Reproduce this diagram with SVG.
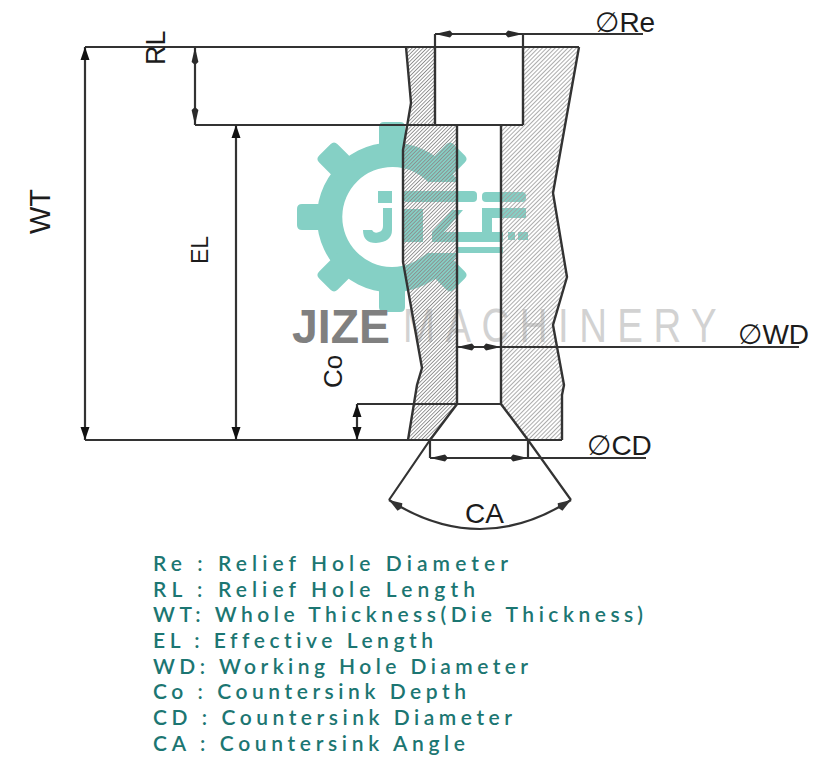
<svg xmlns="http://www.w3.org/2000/svg" width="825" height="769" viewBox="0 0 825 769">
<style>
.ln{fill:none;stroke:#333;stroke-width:2.2}
.ol{fill:none;stroke:#333;stroke-width:2.4;stroke-linejoin:miter}
.lb{font-family:"Liberation Sans",Arial,"DejaVu Sans",sans-serif;fill:#1c1c1c}
.lg{font-family:Lato,"Open Sans",sans-serif;font-size:21px;font-weight:600;font-variant-ligatures:none;fill:#1c7672}
.lg-mark{fill:#85d0c5}
</style>
<defs>
<pattern id="hatchL" width="2.6" height="2.6" patternUnits="userSpaceOnUse" patternTransform="rotate(-45)"><rect width="2.6" height="0.9" fill="#8c8c8c"/></pattern>
<pattern id="hatchR" width="3" height="3" patternUnits="userSpaceOnUse" patternTransform="rotate(-45)"><rect width="3" height="0.9" fill="#a3a3a3"/></pattern>
<marker id="long" markerUnits="userSpaceOnUse" markerWidth="19" markerHeight="8" refX="18" refY="4" orient="auto-start-reverse" viewBox="0 0 19 8"><path d="M18,4 L3,0.6 L0,4 L3,7.4 Z" fill="#2a2a2a"/></marker>
<marker id="short" markerUnits="userSpaceOnUse" markerWidth="14" markerHeight="10" refX="13" refY="5" orient="auto-start-reverse" viewBox="0 0 14 10"><path d="M13,5 L0,0.5 L0,9.5 Z" fill="#111"/></marker>
<marker id="arc" markerUnits="userSpaceOnUse" markerWidth="16" markerHeight="10" refX="15" refY="5" orient="auto-start-reverse" viewBox="0 0 16 10"><path d="M15,5 L2,0.5 L0,5 L2,9.5 Z" fill="#333"/></marker>
<path id="tooth" d="M-13,-64 L-13,-90 Q-13,-95 -8,-95 L8,-95 Q13,-95 13,-90 L13,-64 Z"/>
</defs>
<rect width="825" height="769" fill="#fff"/>

<g id="logo" class="lg-mark">
<path d="M458,182 A75,75 0 1 0 458,253 L427,253 A50,50 0 1 1 428,182 Z"/>
<g transform="translate(392,217)">
<use href="#tooth"/>
<use href="#tooth" transform="rotate(45)"/>
<use href="#tooth" transform="rotate(135)"/>
<use href="#tooth" transform="rotate(180)"/>
<use href="#tooth" transform="rotate(225)"/>
<use href="#tooth" transform="rotate(270)"/>
<use href="#tooth" transform="rotate(315)"/>
</g>
<path d="M378,191 H392 V203 H378 Z"/>
<path d="M383,208 H392 V230 Q392,242 376,243 Q363,243 363,230 L372,230 Q374,234 379,232 Q383,231 383,226 Z"/>
<rect x="403" y="191" width="74" height="11" rx="4"/>
<rect x="482" y="192" width="44" height="10" rx="4"/>
<rect x="403" y="209" width="20" height="33"/>
<path d="M452,210 H463 L444,232 H503 V242 H432 V232 Z"/>
<path d="M482,208 H526 V218 H492 V232 H482 Z"/>
<rect x="508" y="232" width="7" height="8"/>
<rect x="518" y="232" width="10" height="8"/>
<rect x="458" y="247" width="45" height="6"/>
</g>

<g id="watermark">
<text transform="translate(403,342) scale(0.8,1)" font-family="Liberation Sans,sans-serif" font-size="48" fill="#d2d2d2" textLength="392" lengthAdjust="spacing">MACHINERY</text>
<text x="292" y="343" font-family="Liberation Sans,sans-serif" font-size="49" font-weight="700" fill="#808080" textLength="98" lengthAdjust="spacingAndGlyphs">JIZE</text>
</g>

<g id="section">
<path fill="url(#hatchL)" d="M406,47 H435 V125 H457 V404 L430,440 H408 L417,385 L422,368 L403,262 L403,150 L407,125 L411,103 Z"/>
<path fill="url(#hatchR)" d="M523,47 H579 L553,193 L567,277 L553,325 L564,385 L562,395 V440 H528 L501,404 V125 H523 Z"/>
<path class="ol" d="M406,47 L411,103 L403,150 L403,262 L422,368 L417,385 L408,440"/>
<path class="ol" d="M579,47 L553,193 L567,277 L553,325 L564,385 L562,395 V440"/>
<path class="ol" d="M457,125 V404 L430,440"/>
<path class="ol" d="M501,125 V404 L528,440"/>
<path class="ol" d="M435,47 V125 M523,47 V125"/>
</g>

<g id="connectors">
<path class="ln" d="M85,47 H579"/>
<path class="ln" d="M195,125 H523"/>
<path class="ln" d="M85,440 H562"/>
<path class="ln" d="M357,404 H501"/>
<path class="ln" d="M85,47 V440" marker-start="url(#short)" marker-end="url(#short)"/>
<path class="ln" d="M236,125 V440" marker-start="url(#short)" marker-end="url(#short)"/>
<path class="ln" d="M357,404 V440" marker-start="url(#short)" marker-end="url(#short)"/>
<path class="ln" d="M195,47 V125" marker-start="url(#long)" marker-end="url(#long)"/>
<path class="ln" d="M435,47 V34 M523,47 V34"/>
<path class="ln" d="M435,34 H523" marker-start="url(#long)" marker-end="url(#long)"/>
<path class="ln" d="M523,34 H643"/>
<path class="ln" d="M457,347 H501" marker-start="url(#long)" marker-end="url(#long)"/>
<path class="ln" d="M501,347 H799"/>
<path class="ln" d="M430,440 V458 M528,440 V458"/>
<path class="ln" d="M430,458 H528" marker-start="url(#long)" marker-end="url(#long)"/>
<path class="ln" d="M528,458 H646"/>
<path class="ln" d="M430,440 L389,500 M528,440 L571,500"/>
<path class="ln" d="M389,500 Q480,558 571,500" marker-start="url(#arc)" marker-end="url(#arc)"/>
</g>

<g id="dim-labels" class="lb">
<text id="label-WT" transform="translate(50,234) rotate(-90)" font-size="29">WT</text>
<text id="label-RL" transform="translate(165,65) rotate(-90)" font-size="27">RL</text>
<text id="label-EL" transform="translate(208,264) rotate(-90)" font-size="23">EL</text>
<text id="label-Co" transform="translate(342,388) rotate(-90)" font-size="26">Co</text>
<text id="label-Re" x="595" y="32" font-size="28">∅Re</text>
<text id="label-WD" x="738" y="344" font-size="28">∅WD</text>
<text id="label-CD" x="587" y="455" font-size="28">∅CD</text>
<text id="label-CA" x="465" y="523" font-size="28">CA</text>
</g>

<g id="legend" class="lg">
<text x="153" y="571" textLength="355" lengthAdjust="spacing">Re : Relief Hole Diameter</text>
<text x="153" y="597" textLength="322" lengthAdjust="spacing">RL : Relief Hole Length</text>
<text x="153" y="622" textLength="490" lengthAdjust="spacing">WT: Whole Thickness(Die Thickness)</text>
<text x="153" y="648" textLength="280" lengthAdjust="spacing">EL : Effective Length</text>
<text x="153" y="674" textLength="375" lengthAdjust="spacing">WD: Working Hole Diameter</text>
<text x="153" y="699" textLength="313" lengthAdjust="spacing">Co : Countersink Depth</text>
<text x="153" y="725" textLength="359" lengthAdjust="spacing">CD : Countersink Diameter</text>
<text x="153" y="751" textLength="312" lengthAdjust="spacing">CA : Countersink Angle</text>
</g>
</svg>
